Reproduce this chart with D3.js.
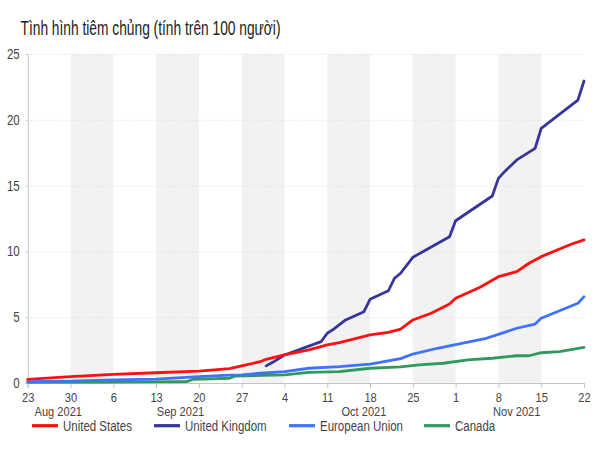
<!DOCTYPE html>
<html>
<head>
<meta charset="utf-8">
<script src="https://cdn.jsdelivr.net/npm/d3@7"></script>
<style>
  html, body { margin: 0; padding: 0; background: #fff; }
  svg text { font-family: "Liberation Sans", Arial, sans-serif; }
</style>
</head>
<body>
<svg id="chart" width="600" height="450"></svg>
<script>
const title = "Tình hình tiêm chủng (tính trên 100 người)";

const seriesNames = ["United States", "United Kingdom", "European Union", "Canada"];
const seriesColors = ["#ff1010", "#35359a", "#3f72ff", "#2f9a5c"];

const usDates = ["2021-08-23","2021-08-30","2021-09-06","2021-09-13","2021-09-20","2021-09-25","2021-09-27","2021-09-30","2021-10-01","2021-10-04","2021-10-08","2021-10-11","2021-10-13","2021-10-18","2021-10-21","2021-10-23","2021-10-25","2021-10-28","2021-10-31","2021-11-01","2021-11-05","2021-11-08","2021-11-11","2021-11-13","2021-11-15","2021-11-20","2021-11-22"];
const usValues = [0.28,0.48,0.66,0.78,0.91,1.1,1.31,1.62,1.8,2.13,2.51,2.89,3.06,3.65,3.85,4.1,4.79,5.3,6.0,6.44,7.27,8.08,8.46,9.1,9.6,10.56,10.87];

const ukDates = ["2021-10-01","2021-10-02","2021-10-04","2021-10-10","2021-10-11","2021-10-12","2021-10-14","2021-10-17","2021-10-18","2021-10-21","2021-10-22","2021-10-23","2021-10-25","2021-10-31","2021-11-01","2021-11-07","2021-11-08","2021-11-09","2021-11-11","2021-11-14","2021-11-15","2021-11-21","2021-11-22"];
const ukValues = [1.3,1.55,2.13,3.14,3.78,4.08,4.79,5.42,6.36,7.01,7.96,8.34,9.55,11.12,12.33,14.21,15.55,16.06,16.95,17.83,19.35,21.5,22.95];

const euDates = ["2021-08-23","2021-08-30","2021-09-06","2021-09-13","2021-09-20","2021-09-25","2021-09-27","2021-09-30","2021-10-04","2021-10-08","2021-10-13","2021-10-18","2021-10-23","2021-10-25","2021-10-29","2021-11-02","2021-11-06","2021-11-08","2021-11-11","2021-11-14","2021-11-15","2021-11-19","2021-11-21","2021-11-22"];
const euValues = [0.1,0.15,0.23,0.3,0.48,0.6,0.62,0.74,0.86,1.12,1.24,1.44,1.85,2.2,2.64,3.02,3.4,3.7,4.16,4.48,4.92,5.68,6.06,6.56];

const caDates = ["2021-08-23","2021-09-05","2021-09-18","2021-09-19","2021-09-25","2021-09-26","2021-10-04","2021-10-08","2021-10-13","2021-10-18","2021-10-23","2021-10-26","2021-10-30","2021-11-03","2021-11-07","2021-11-11","2021-11-13","2021-11-15","2021-11-18","2021-11-22"];
const caValues = [0.05,0.07,0.1,0.28,0.36,0.53,0.61,0.81,0.86,1.12,1.22,1.37,1.5,1.75,1.88,2.07,2.07,2.3,2.38,2.71];

const xTickDates = ["2021-08-23","2021-08-30","2021-09-06","2021-09-13","2021-09-20","2021-09-27","2021-10-04","2021-10-11","2021-10-18","2021-10-25","2021-11-01","2021-11-08","2021-11-15","2021-11-22"];
const xTickLabels = ["23","30","6","13","20","27","4","11","18","25","1","8","15","22"];
const bandStarts = ["2021-08-30","2021-09-13","2021-09-27","2021-10-11","2021-10-25","2021-11-08"];
const monthLabels = ["Aug 2021","Sep 2021","Oct 2021","Nov 2021"];
const monthLabelDates = ["2021-08-28","2021-09-17","2021-10-17","2021-11-11"];
const yTicks = [0,5,10,15,20,25];

const parse = d3.utcParse("%Y-%m-%d");
const svg = d3.select("#chart");
const SQ = 0.82; // horizontal squeeze of the reference's lettering

function squeeze(sel, k) {
  sel.each(function() {
    const w = this.getComputedTextLength();
    d3.select(this).attr("textLength", w * k).attr("lengthAdjust", "spacingAndGlyphs");
  });
}

const x = d3.scaleUtc().domain([parse("2021-08-23"), parse("2021-11-22")]).range([27.7, 584]);
const y = d3.scaleLinear().domain([0, 25]).range([383, 54]);

// title
const t = svg.append("text").attr("x", 20.5).attr("y", 35)
  .attr("font-size", 20).attr("fill", "#222").text(title);
t.attr("textLength", 260).attr("lengthAdjust", "spacingAndGlyphs");

// bands
svg.append("g").selectAll("rect").data(bandStarts).join("rect")
  .attr("x", d => x(parse(d)))
  .attr("width", d => x(d3.utcDay.offset(parse(d), 7)) - x(parse(d)))
  .attr("y", y(25)).attr("height", y(0) - y(25))
  .attr("fill", "#f2f2f2");

// gridlines
svg.append("g").selectAll("line").data(yTicks.filter(v => v > 0)).join("line")
  .attr("x1", x.range()[0]).attr("x2", x.range()[1])
  .attr("y1", d => y(d) + 0.5).attr("y2", d => y(d) + 0.5)
  .attr("stroke", "#dddddd").attr("stroke-dasharray", "1,2");

// y axis
const yAxis = svg.append("g").attr("transform", `translate(${x.range()[0]},0)`)
  .call(d3.axisLeft(y).tickValues(yTicks).tickSize(3).tickPadding(5));
yAxis.select(".domain").attr("stroke", "#c4c4c4").attr("d", `M0.5,${y(25)}V${y(0)}`);
yAxis.selectAll(".tick line").attr("stroke", "#c4c4c4").attr("x2", -2).attr("x1", 0);
yAxis.selectAll(".tick text").attr("font-size", 14).attr("fill", "#444")
  .attr("font-family", null);

// x axis
const xAxis = svg.append("g").attr("transform", `translate(0,${y(0)})`)
  .call(d3.axisBottom(x).tickValues(xTickDates.map(parse))
    .tickFormat((d, i) => xTickLabels[i]).tickSize(5).tickPadding(4));
xAxis.select(".domain").attr("stroke", "#c4c4c4");
xAxis.selectAll(".tick line").attr("stroke", "#c4c4c4");
xAxis.selectAll(".tick text").attr("font-size", 13.5).attr("fill", "#444")
  .attr("font-family", null);
squeeze(svg.selectAll(".tick text"), SQ);

// month labels
const ml = svg.append("g").selectAll("text").data(monthLabels).join("text")
  .attr("x", (d, i) => x(parse(monthLabelDates[i])))
  .attr("y", 415.5).attr("text-anchor", "middle")
  .attr("font-size", 13.5).attr("fill", "#444").text(d => d);
squeeze(ml, SQ);

// lines
const series = [
  {dates: caDates, values: caValues, idx: 3},
  {dates: euDates, values: euValues, idx: 2},
  {dates: ukDates, values: ukValues, idx: 1},
  {dates: usDates, values: usValues, idx: 0}
];
const line = d3.line().x(d => x(d[0])).y(d => y(d[1]));
series.forEach(s => {
  const pts = s.dates.map((d, i) => [parse(d), s.values[i]]);
  svg.append("path").datum(pts).attr("d", line)
    .attr("fill", "none").attr("stroke", seriesColors[s.idx])
    .attr("stroke-width", 2.8).attr("stroke-linejoin", "round").attr("stroke-linecap", "round");
});

// legend
const legendX = [32, 154, 289, 424];
const lg = svg.append("g").selectAll("g").data(seriesNames).join("g")
  .attr("transform", (d, i) => `translate(${legendX[i]},425.7)`);
lg.append("line").attr("x1", 0).attr("x2", 26).attr("y1", 0).attr("y2", 0)
  .attr("stroke", (d, i) => seriesColors[i]).attr("stroke-width", 3.2);
const lt = lg.append("text").attr("x", 31).attr("y", 5).attr("font-size", 14).attr("fill", "#444").text(d => d);
squeeze(lt, SQ);
</script>
</body>
</html>
